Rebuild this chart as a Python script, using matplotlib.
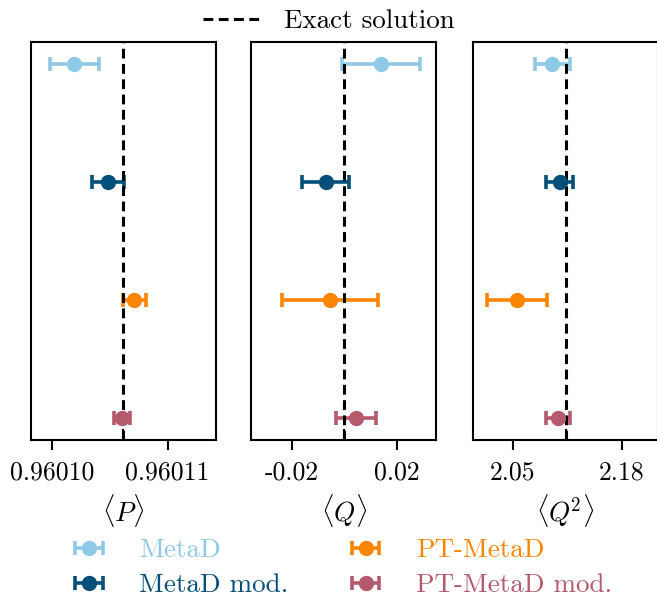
import numpy as np
import matplotlib
matplotlib.use('Agg')
import matplotlib.pyplot as plt
from matplotlib.lines import Line2D

#%% Dados
metodos = ['MetaD', 'MetaD mod.', 'PT-MetaD', 'PT-MetaD mod.']
cores = ['#8ecae6', '#02507a', '#fb8500', '#b5596d']

P_med = [0.9601019, 0.9601048, 0.9601071, 0.9601060]
P_err = [0.0000021, 0.0000014, 0.0000010, 0.0000007]
P_exato = 0.9601061

Q_med = [0.0141, -0.0070, -0.0055, 0.0044]
Q_err = [0.0150, 0.0090, 0.0183, 0.0076]
Q_exato = 0.0

Q2_med = [2.0969, 2.1057, 2.0547, 2.1040]
Q2_err = [0.0210, 0.0166, 0.0360, 0.0140]
Q2_exato = 2.1139

paineis = [
    (P_med, P_err, P_exato, [0.96010, 0.96011], ['0.96010', '0.96011'],
     (0.9600981, 0.9601142), r'$\langle P\rangle$'),
    (Q_med, Q_err, Q_exato, [-0.02, 0.02], ['-0.02', '0.02'],
     (-0.0356, 0.0352), r'$\langle Q\rangle$'),
    (Q2_med, Q2_err, Q2_exato, [2.05, 2.18], ['2.05', '2.18'],
     (2.0017, 2.2233), r'$\langle Q^{\!2}\rangle$'),
]

#%% Estilo
plt.rcParams['font.family'] = 'serif'
plt.rcParams['font.serif'] = ['cmr10']
plt.rcParams['mathtext.fontset'] = 'cm'
plt.rcParams['axes.unicode_minus'] = False
plt.rcParams['axes.formatter.use_mathtext'] = True
fs = 18.5
fs_leg = 19.5

#%% Gráfico
fig = plt.figure(figsize=(6.57, 5.97), dpi=100)
esquerdas = [0.0466, 0.382, 0.7193]
larg = 0.2822
base = 0.263
alt = 0.6667

pos_y = np.arange(len(metodos))
handles = []
for k, (med, err, exato, ticks, tlabels, lim, rotulo) in enumerate(paineis):
    ax = fig.add_axes([esquerdas[k], base, larg, alt])
    for i in range(len(metodos)):
        h = ax.errorbar(med[i], pos_y[i], xerr=err[i], fmt='o', color=cores[i],
                        markersize=10, elinewidth=2.6, capsize=5, capthick=2.6,
                        label=metodos[i])
        if k == 0:
            handles.append(h)
    ax.axvline(exato, color='k', linestyle='--', linewidth=2.2, dashes=(3.2, 1.8))
    ax.set_xlim(*lim)
    ax.set_ylim(3.19, -0.19)
    ax.set_yticks([])
    ax.set_xticks(ticks)
    ax.set_xticklabels(tlabels, fontsize=fs)
    ax.set_xticks([exato], minor=True)
    ax.tick_params(axis='x', which='major', direction='out', length=7, width=1.5, pad=8)
    ax.tick_params(axis='x', which='minor', direction='in', length=8, width=1.5,
                   labelbottom=False)
    ax.set_xlabel(rotulo, fontsize=fs_leg, labelpad=5)
    for s in ax.spines.values():
        s.set_linewidth(1.5)

linha = Line2D([], [], color='k', linestyle='--', linewidth=2.2, dashes=(3.2, 1.8))
fig.legend(handles=[linha], labels=['Exact solution'], loc='upper center',
           bbox_to_anchor=(0.5, 1.025), frameon=False, fontsize=fs_leg,
           handlelength=2.2, handletextpad=0.8)

leg = fig.legend(handles=handles, labels=metodos, loc='lower center',
                 bbox_to_anchor=(0.522, -0.028), ncol=2, frameon=False, fontsize=fs_leg,
                 handlelength=1.1, handletextpad=1.3, columnspacing=2.3,
                 labelspacing=0.42, borderpad=0.1)
for t, c in zip(leg.get_texts(), cores):
    t.set_color(c)

plt.savefig('out.png', dpi=100)
